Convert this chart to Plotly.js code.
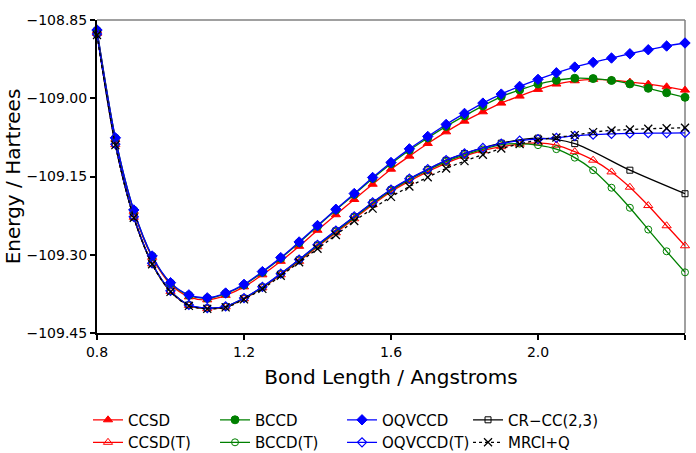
<!DOCTYPE html>
<html>
<head>
<meta charset="utf-8">
<script src="https://cdn.plot.ly/plotly-3.0.1.min.js"></script>
<style>html,body{margin:0;padding:0;background:#fff;}#chart{width:696px;height:453px;}</style>
</head>
<body>
<div id="chart"></div>
<script>
// Bond lengths (Angstrom)
const bondLength = [0.80,0.85,0.90,0.95,1.00,1.05,1.10,1.15,1.20,1.25,1.30,1.35,1.40,1.45,1.50,1.55,1.60,1.65,1.70,1.75,1.80,1.85,1.90,1.95,2.00,2.05,2.10,2.15,2.20,2.25,2.30,2.35,2.40];
const bondLengthCRCC = [0.80,0.85,0.90,0.95,1.00,1.05,1.10,1.15,1.20,1.25,1.30,1.35,1.40,1.45,1.50,1.55,1.60,1.65,1.70,1.75,1.80,1.90,2.00,2.10,2.25,2.40];

const ccsd = [-108.8711,-109.0784,-109.2166,-109.3049,-109.3567,-109.3807,-109.3865,-109.3778,-109.3615,-109.3385,-109.3126,-109.2838,-109.2531,-109.2233,-109.1941,-109.1648,-109.1360,-109.1110,-109.0867,-109.0644,-109.0439,-109.0260,-109.0093,-108.9959,-108.9830,-108.9728,-108.9665,-108.9638,-108.9652,-108.9690,-108.9728,-108.9780,-108.9844];
const bccd = [-108.8702,-109.0765,-109.2147,-109.3030,-109.3544,-109.3778,-109.3836,-109.3744,-109.3579,-109.3337,-109.3068,-109.2769,-109.2454,-109.2143,-109.1844,-109.1538,-109.1254,-109.0995,-109.0761,-109.0540,-109.0339,-109.0147,-108.9968,-108.9840,-108.9728,-108.9657,-108.9617,-108.9623,-108.9659,-108.9725,-108.9809,-108.9895,-108.9982];
const oqvccd = [-108.8692,-109.0759,-109.2141,-109.3024,-109.3535,-109.3769,-109.3826,-109.3734,-109.3567,-109.3323,-109.3055,-109.2755,-109.2440,-109.2128,-109.1826,-109.1519,-109.1231,-109.0970,-109.0732,-109.0502,-109.0291,-109.0093,-108.9920,-108.9773,-108.9638,-108.9512,-108.9402,-108.9312,-108.9229,-108.9147,-108.9070,-108.8999,-108.8941];
const crcc23 = [-108.8765,-109.0884,-109.2276,-109.3168,-109.3696,-109.3964,-109.4026,-109.3993,-109.3835,-109.3620,-109.3367,-109.3098,-109.2815,-109.2542,-109.2272,-109.2003,-109.1756,-109.1548,-109.1365,-109.1190,-109.1060,-109.0861,-109.0765,-109.0870,-109.1379,-109.1830];
const ccsdT = [-108.8759,-109.0890,-109.2281,-109.3174,-109.3702,-109.3970,-109.4034,-109.3999,-109.3845,-109.3634,-109.3385,-109.3126,-109.2847,-109.2579,-109.2310,-109.2041,-109.1792,-109.1590,-109.1408,-109.1245,-109.1110,-109.1005,-109.0928,-109.0880,-109.0857,-109.0899,-109.1024,-109.1187,-109.1412,-109.1705,-109.2057,-109.2444,-109.2828];
const bccdT = [-108.8753,-109.0880,-109.2277,-109.3170,-109.3698,-109.3966,-109.4028,-109.3995,-109.3836,-109.3625,-109.3371,-109.3107,-109.2828,-109.2556,-109.2287,-109.2018,-109.1769,-109.1561,-109.1379,-109.1216,-109.1087,-109.0982,-109.0890,-109.0870,-109.0899,-109.0976,-109.1139,-109.1379,-109.1715,-109.2099,-109.2517,-109.2934,-109.3337];
const oqvccdT = [-108.8769,-109.0880,-109.2272,-109.3164,-109.3692,-109.3961,-109.4022,-109.3989,-109.3830,-109.3615,-109.3362,-109.3093,-109.2809,-109.2536,-109.2266,-109.1997,-109.1750,-109.1542,-109.1360,-109.1187,-109.1059,-109.0953,-109.0870,-109.0813,-109.0784,-109.0759,-109.0723,-109.0698,-109.0684,-109.0675,-109.0669,-109.0668,-109.0663];
const mrciq = [-108.8788,-109.0899,-109.2291,-109.3183,-109.3711,-109.3980,-109.4037,-109.4009,-109.3855,-109.3654,-109.3404,-109.3145,-109.2886,-109.2623,-109.2354,-109.2116,-109.1890,-109.1692,-109.1513,-109.1346,-109.1206,-109.1082,-109.0963,-109.0876,-109.0803,-109.0751,-109.0707,-109.0650,-109.0617,-109.0600,-109.0584,-109.0575,-109.0565];

const xTicks = [0.8, 1.2, 1.6, 2.0, 2.4];
const yTicks = [-109.45, -109.30, -109.15, -109.00, -108.85];

const RED = '#FF0000', GREEN = '#008000', BLUE = '#0000FF', BLACK = '#000000';

function tr(name, x, y, color, symbol, size, dash, mlw, legendId) {
  return {
    type: 'scatter', mode: 'lines+markers', name: name, x: x, y: y,
    cliponaxis: false, legend: legendId,
    line: {color: color, width: 1.3, shape: 'spline', smoothing: 0.8, dash: dash || 'solid'},
    marker: {symbol: symbol, size: size, color: color, line: {color: color, width: mlw || 1}}
  };
}

const data = [
  tr('CCSD', bondLength, ccsd, RED, 'triangle-up', 8, 'solid', 1, 'legend'),
  tr('BCCD', bondLength, bccd, GREEN, 'circle', 8, 'solid', 1, 'legend2'),
  tr('OQVCCD', bondLength, oqvccd, BLUE, 'diamond', 8, 'solid', 1, 'legend3'),
  tr('CR−CC(2,3)', bondLengthCRCC, crcc23, BLACK, 'square-open', 6, 'solid', 1, 'legend4'),
  tr('CCSD(T)', bondLength, ccsdT, RED, 'triangle-up-open', 8, 'solid', 1, 'legend'),
  tr('BCCD(T)', bondLength, bccdT, GREEN, 'circle-open', 7, 'solid', 1, 'legend2'),
  tr('OQVCCD(T)', bondLength, oqvccdT, BLUE, 'diamond-open', 7, 'solid', 1.2, 'legend3'),
  tr('MRCI+Q', bondLength, mrciq, BLACK, 'x-thin-open', 8, 'dot', 1.3, 'legend4')
];

function leg(x) {
  return {
    orientation: 'v', x: x, xanchor: 'left', y: -0.2254, yanchor: 'top',
    font: {size: 15, family: 'DejaVu Sans, sans-serif', color: '#000'},
    bgcolor: 'rgba(0,0,0,0)', borderwidth: 0, itemwidth: 30, tracegroupgap: 0
  };
}

const layout = {
  width: 696, height: 453,
  margin: {l: 97, r: 11, t: 20, b: 120, autoexpand: false},
  paper_bgcolor: '#fff', plot_bgcolor: '#fff',
  font: {family: 'DejaVu Sans, sans-serif', size: 14, color: '#000'},
  showlegend: true,
  legend: leg(-0.0153),
  legend2: leg(0.2007),
  legend3: leg(0.4167),
  legend4: leg(0.631),
  xaxis: {
    range: [0.8, 2.4], tickvals: xTicks, tickformat: '.1f',
    showgrid: false, zeroline: false, showline: true, linecolor: '#000', linewidth: 2,
    ticks: 'outside', ticklen: 5, tickwidth: 2, tickcolor: '#000',
    tickfont: {size: 14},
    title: {text: 'Bond Length / Angstroms', font: {size: 20}, standoff: 11}
  },
  yaxis: {
    range: [-109.45, -108.85], tickvals: yTicks, tickformat: '.2f',
    showgrid: false, zeroline: false, showline: true, linecolor: '#000', linewidth: 2,
    ticks: 'outside', ticklen: 5, tickwidth: 2, tickcolor: '#000',
    tickfont: {size: 14},
    title: {text: 'Energy / Hartrees', font: {size: 20}, standoff: 0}
  },
  shapes: [
    {type: 'line', xref: 'paper', yref: 'paper', x0: 0, x1: 1, y0: 1, y1: 1, line: {color: '#808080', width: 1.5}, layer: 'below'},
    {type: 'line', xref: 'paper', yref: 'paper', x0: 1, x1: 1, y0: 0, y1: 1, line: {color: '#808080', width: 1.5}, layer: 'below'}
  ]
};

Plotly.newPlot('chart', data, layout, {displayModeBar: false, staticPlot: true});
</script>
</body>
</html>
